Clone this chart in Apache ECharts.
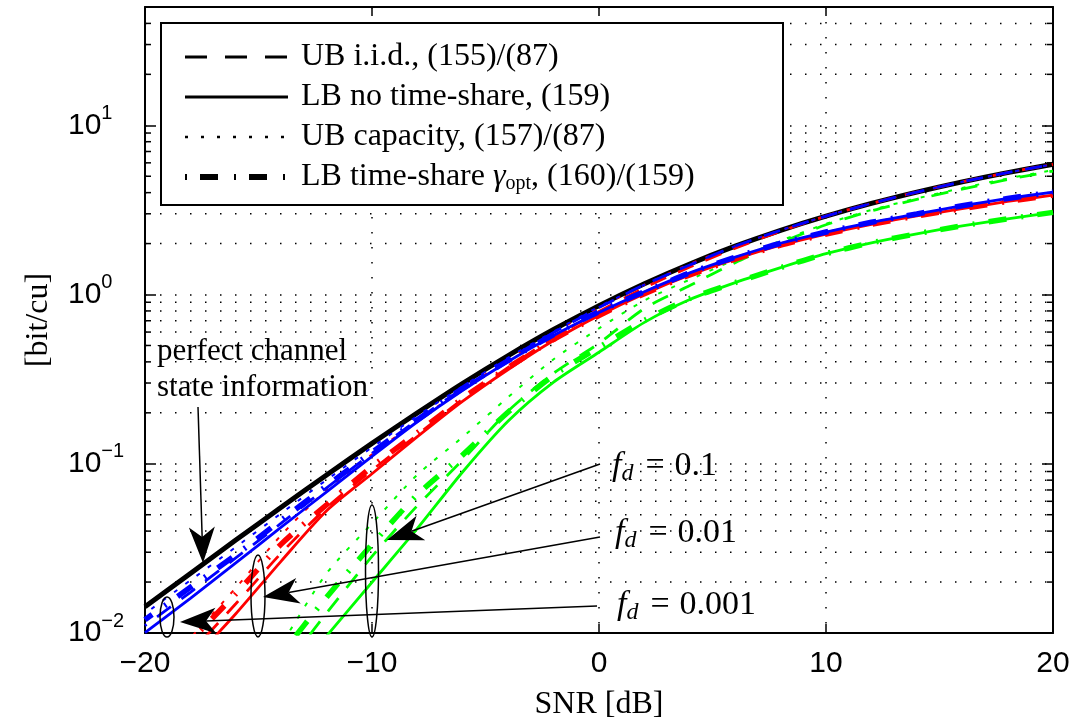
<!DOCTYPE html>
<html>
<head>
<meta charset="utf-8">
<script src="https://cdn.jsdelivr.net/npm/echarts@6/dist/echarts.min.js"></script>
<style>
html, body { margin: 0; padding: 0; background: #fff; }
#chart { width: 1076px; height: 726px; }
</style>
</head>
<body>
<div id="chart"></div>
<script>
// SNR grid [dB]
var snr = [-20, -18, -16, -14, -12, -10, -8, -6, -4, -2, 0, 2, 4, 6, 8, 10, 12, 14, 16, 18, 20];

// perfect channel state information (black)
var perfectCsi = [0.0143, 0.0225, 0.0354, 0.0553, 0.0859, 0.132, 0.200, 0.299, 0.436, 0.621, 0.860, 1.158, 1.516, 1.930, 2.396, 2.906, 3.454, 4.031, 4.633, 5.252, 5.884];

// fd = 0.001 (blue)
var blueUbIid  = [0.01106, 0.0174, 0.02775, 0.04453, 0.07204, 0.1153, 0.1819, 0.2794, 0.4130, 0.5963, 0.8370, 1.1425, 1.4957, 1.930, 2.396, 2.906, 3.454, 4.031, 4.633, 5.252, 5.884];
var blueUbCap  = [0.01301, 0.02047, 0.0322, 0.05099, 0.08028, 0.1250, 0.1920, 0.2871, 0.4244, 0.6044, 0.8485, 1.1425, 1.4957, 1.930, 2.396, 2.906, 3.454, 4.031, 4.633, 5.252, 5.884];
var blueLbNoTs = [0.01006, 0.01604, 0.02593, 0.04219, 0.06825, 0.1107, 0.1771, 0.2720, 0.4020, 0.5726, 0.7823, 1.0392, 1.3421, 1.6631, 2.0095, 2.3402, 2.6710, 2.9930, 3.3483, 3.6943, 4.0282];
var blueLbTs   = [0.01199, 0.01862, 0.02890, 0.04638, 0.07402, 0.1169, 0.1819, 0.2794, 0.4075, 0.5804, 0.7929, 1.0392, 1.3421, 1.6631, 2.0095, 2.3402, 2.6710, 2.9930, 3.3483, 3.6943, 4.0282];

// fd = 0.01 (red)
var redUbIid  = [0.003947, 0.007614, 0.01488, 0.02966, 0.05496, 0.09161, 0.1485, 0.2408, 0.3706, 0.5573, 0.7929, 1.0970, 1.4557, 1.8785, 2.3639, 2.906, 3.454, 4.031, 4.633, 5.252, 5.884];
var redUbCap  = [0.004839, 0.009333, 0.01848, 0.03786, 0.07012, 0.1137, 0.1795, 0.2757, 0.4130, 0.5963, 0.8370, 1.1425, 1.516, 1.930, 2.396, 2.906, 3.454, 4.031, 4.633, 5.252, 5.884];
var redLbNoTs = [0.003402, 0.006647, 0.01299, 0.02661, 0.05275, 0.08734, 0.1445, 0.2344, 0.3607, 0.5351, 0.7511, 1.0114, 1.3063, 1.6187, 1.9559, 2.2777, 2.5991, 2.9132, 3.2153, 3.5472, 3.8681];
var redLbTs   = [0.004582, 0.00896, 0.01703, 0.03351, 0.05724, 0.09602, 0.1526, 0.2441, 0.3706, 0.5424, 0.7511, 1.0114, 1.3063, 1.6187, 1.9559, 2.2777, 2.5991, 2.9132, 3.2153, 3.5472, 3.8681];

// fd = 0.1 (green)
var greenUbIid  = [0.000529, 0.001193, 0.002652, 0.005896, 0.01311, 0.02837, 0.05660, 0.1056, 0.2050, 0.3430, 0.5150, 0.8273, 1.1295, 1.5424, 2.0223, 2.5822, 3.1198, 3.6462, 4.2023, 4.7803, 5.3640];
var greenUbCap  = [0.0008, 0.0017, 0.0038, 0.008614, 0.02253, 0.04437, 0.08616, 0.1441, 0.2478, 0.4146, 0.6310, 0.9219, 1.2249, 1.6067, 2.0780, 2.6168, 3.1623, 3.6952, 4.2600, 4.8460, 5.4375];
var greenLbNoTs = [0.000488, 0.001041, 0.002165, 0.004558, 0.009603, 0.01995, 0.04147, 0.08972, 0.1790, 0.3037, 0.4560, 0.6844, 0.9345, 1.1765, 1.4414, 1.7429, 2.0223, 2.2851, 2.5464, 2.8000, 3.0569];
var greenLbTs   = [0.0007, 0.0016, 0.0035, 0.0075, 0.01628, 0.03338, 0.06571, 0.1129, 0.2022, 0.3338, 0.4878, 0.7033, 0.9473, 1.1765, 1.4414, 1.7429, 2.0223, 2.2851, 2.5464, 2.8000, 3.0569];

var legendNames = ['UB i.i.d., (155)/(87)', 'LB no time-share, (159)', 'UB capacity, (157)/(87)', 'LB time-share γopt, (160)/(159)'];
var xTicks = [-20, -10, 0, 10, 20];
var yMin = 0.01, yMax = 50;

// minor log ticks 2..9 of every decade
var yMinor = [];
[0.01, 0.1, 1, 10].forEach(function (d) {
    for (var k = 2; k <= 9; k++) {
        var v = +(d * k).toPrecision(3);
        if (v < yMax) yMinor.push(v);
    }
});

var serif = "'Liberation Serif', 'Times New Roman', serif";
var sans = "'Liberation Sans', Arial, sans-serif";
var gridDots = [1.5, 13.5];

var dashed = [17, 13], dotted = [4, 10], dashDot = [18, 15, 2, 14];

function pairs(ys) {
    return snr.map(function (x, i) { return [x, ys[i]]; });
}

function curve(id, ys, color, width, dash, z, offset) {
    return {
        name: id, type: 'line', data: pairs(ys), symbol: 'none', smooth: 0.25,
        silent: true, z: z, animation: false,
        lineStyle: { color: color, width: width, type: dash || 'solid', dashOffset: offset || 0, cap: 'butt' }
    };
}

// empty black series, only there to give the legend its samples
function legendDummy(name, width, dash) {
    return { name: name, type: 'line', data: [], symbol: 'none', z: 8,
        itemStyle: { color: 'rgba(0,0,0,0)' },
        lineStyle: { color: '#000', width: width, type: dash || 'solid', cap: 'butt' } };
}

function arrow(x1, y1, x2, y2) {
    var dx = x2 - x1, dy = y2 - y1, len = Math.sqrt(dx * dx + dy * dy);
    var ux = dx / len, uy = dy / len, nx = -uy, ny = ux;
    var L = 36, W = 13, N = 10;
    var bx = x2 - ux * L, by = y2 - uy * L;
    var mx = x2 - ux * (L - N), my = y2 - uy * (L - N);
    return [
        { type: 'line', z: 100, shape: { x1: x1, y1: y1, x2: mx, y2: my }, style: { stroke: '#000', lineWidth: 1.5 } },
        { type: 'polygon', z: 100, shape: { points: [[x2, y2], [bx + nx * W, by + ny * W], [mx, my], [bx - nx * W, by - ny * W]] }, style: { fill: '#000' } }
    ];
}

function ellipse(cx, cy, rx, ry) {
    return { type: 'ellipse', z: 100, shape: { cx: cx, cy: cy, rx: rx, ry: ry }, style: { fill: 'none', stroke: '#000', lineWidth: 1.5 } };
}

function plainText(x, y, txt) {
    return { type: 'text', z: 100, x: x, y: y,
        style: { text: txt, fill: '#000', font: '31px ' + serif, align: 'left', verticalAlign: 'middle' } };
}

function fdText(x, y, val) {
    return { type: 'text', z: 100, x: x, y: y,
        style: {
            text: '{f|f}{d|d}{e|=}{n|' + val + '}', fill: '#000', align: 'left', verticalAlign: 'middle',
            rich: {
                f: { fontFamily: serif, fontStyle: 'italic', fontSize: 34, lineHeight: 40, fill: '#000' },
                d: { fontFamily: serif, fontStyle: 'italic', fontSize: 24, verticalAlign: 'bottom', fill: '#000' },
                e: { fontFamily: serif, fontSize: 34, lineHeight: 40, padding: [0, 10, 0, 12], fill: '#000' },
                n: { fontFamily: serif, fontSize: 34, lineHeight: 40, fill: '#000' }
            }
        } };
}

var axisLineStyle = { color: '#000', width: 2 };

var option = {
    backgroundColor: '#fff',
    animation: false,
    grid: { left: 145, right: 23, top: 7, bottom: 89 },
    legend: {
        data: legendNames, orient: 'vertical', left: 161, top: 23,
        padding: [17, 18, 9, 21], itemWidth: 103, itemHeight: 30, itemGap: 6,
        selectedMode: false, z: 8,
        itemStyle: { color: 'rgba(0,0,0,0)', borderWidth: 0 },
        lineStyle: { width: 'inherit' },
        formatter: function (name) {
            if (name === legendNames[3]) return '{n|LB time-share }{g|γ}{s|opt}{n|, (160)/(159)}';
            return '{n|' + name + '}';
        },
        textStyle: {
            color: '#000', fontFamily: serif, fontSize: 32, lineHeight: 30, padding: [0, 0, 0, 8],
            rich: {
                n: { fontFamily: serif, fontSize: 32, lineHeight: 34, color: '#000' },
                g: { fontFamily: serif, fontSize: 32, lineHeight: 34, fontStyle: 'italic', color: '#000' },
                s: { fontFamily: serif, fontSize: 20, verticalAlign: 'bottom', color: '#000' }
            }
        }
    },
    xAxis: [{
        type: 'value', min: xTicks[0], max: xTicks[xTicks.length - 1], interval: 10,
        axisLine: { onZero: false, lineStyle: axisLineStyle },
        axisTick: { inside: true, length: 9, lineStyle: { color: '#000', width: 1.5 } },
        axisLabel: { margin: 16, color: '#000', fontFamily: sans, fontSize: 30,
            formatter: function (v) { return String(v).replace('-', '\u2212'); } },
        splitLine: { show: true, lineStyle: { color: '#000', width: 1.5, type: gridDots } },
        name: 'SNR [dB]', nameLocation: 'middle', nameGap: 56,
        nameTextStyle: { fontFamily: serif, fontSize: 32, color: '#000' }
    }, {
        type: 'value', position: 'top', min: xTicks[0], max: xTicks[xTicks.length - 1], interval: 10,
        axisLine: { onZero: false, lineStyle: axisLineStyle },
        axisTick: { inside: true, length: 9, lineStyle: { color: '#000', width: 1.5 } },
        axisLabel: { show: false }, splitLine: { show: false }
    }],
    yAxis: [{
        type: 'log', logBase: 10, min: yMin, max: yMax, position: 'left',
        axisLine: { onZero: false, lineStyle: axisLineStyle },
        axisTick: { inside: true, length: 11, lineStyle: { color: '#000', width: 1.5 } },
        axisLabel: {
            margin: 77, align: 'left', showMaxLabel: false,
            formatter: function (v) {
                var e = Math.log10(v), r = Math.round(e);
                if (Math.abs(e - r) > 1e-6) return '';
                return '{b|10}{e|' + String(r).replace('-', '\u2212') + '}';
            },
            rich: {
                b: { fontFamily: sans, fontSize: 30, lineHeight: 44, color: '#000' },
                e: { fontFamily: sans, fontSize: 20, verticalAlign: 'top', color: '#000' }
            }
        },
        splitLine: { show: true, lineStyle: { color: '#000', width: 1.5, type: gridDots } },
        name: '[bit/cu]', nameLocation: 'middle', nameGap: 90,
        nameTextStyle: { fontFamily: serif, fontSize: 32, color: '#000' }
    }, {
        type: 'log', logBase: 10, min: yMin, max: yMax, position: 'right',
        axisLine: { onZero: false, lineStyle: axisLineStyle },
        axisTick: { inside: true, length: 11, lineStyle: { color: '#000', width: 1.5 } },
        axisLabel: { show: false }, splitLine: { show: false }
    }],
    series: [
        {
            type: 'custom', name: 'minorGrid', coordinateSystem: 'cartesian2d', silent: true, z: 1,
            data: yMinor.map(function (v) { return [xTicks[0], v]; }),
            renderItem: function (params, api) {
                var p = api.coord([api.value(0), api.value(1)]);
                var cs = params.coordSys, xl = cs.x, xr = cs.x + cs.width, y = p[1];
                return { type: 'group', children: [
                    { type: 'line', shape: { x1: xl, y1: y, x2: xr, y2: y }, style: { stroke: '#000', lineWidth: 1.5, lineDash: gridDots } },
                    { type: 'line', shape: { x1: xl, y1: y, x2: xl + 6, y2: y }, style: { stroke: '#000', lineWidth: 1.5 } },
                    { type: 'line', shape: { x1: xr - 6, y1: y, x2: xr, y2: y }, style: { stroke: '#000', lineWidth: 1.5 } }
                ] };
            }
        },
        curve('perfect', perfectCsi, '#000', 5, null, 2),

        curve('g-lb', greenLbNoTs, '#00ff00', 2.8, null, 3),
        curve('g-ts', greenLbTs, '#00ff00', 5.5, dashDot, 3),
        curve('g-iid', greenUbIid, '#00ff00', 2.8, dashed, 3),
        curve('g-cap', greenUbCap, '#00ff00', 2, dotted, 3),

        curve('r-lb', redLbNoTs, '#ff0000', 2.8, null, 4),
        curve('r-ts', redLbTs, '#ff0000', 5.5, dashDot, 4),
        curve('r-iid', redUbIid, '#ff0000', 2.8, dashed, 4),
        curve('r-cap', redUbCap, '#ff0000', 2, dotted, 4),

        curve('b-lb', blueLbNoTs, '#0000ff', 2.8, null, 5),
        curve('b-ts', blueLbTs, '#0000ff', 5.5, dashDot, 5, 9),
        curve('b-iid', blueUbIid, '#0000ff', 2.8, dashed, 5, 15),
        curve('b-cap', blueUbCap, '#0000ff', 2, dotted, 5, 6),

        legendDummy(legendNames[0], 3, [22, 18]),
        legendDummy(legendNames[1], 3, null),
        legendDummy(legendNames[2], 2.5, [3, 13]),
        legendDummy(legendNames[3], 6, [2, 13, 18, 16])
    ],
    graphic: [].concat(
        // legend frame
        { type: 'rect', z: 7, shape: { x: 161, y: 23, width: 622, height: 182 },
          style: { fill: '#fff', stroke: '#000', lineWidth: 2 } },
        plainText(157, 352, 'perfect channel'),
        plainText(157, 388, 'state information'),
        arrow(198, 407, 203, 563),
        arrow(600, 464, 387, 540),
        arrow(600, 537, 263, 597),
        arrow(597, 606, 180, 622),
        ellipse(167, 617, 7, 20),
        ellipse(258, 596, 7, 41),
        ellipse(372, 571, 6.5, 66),
        fdText(612, 466, '0.1'),
        fdText(615, 533, '0.01'),
        fdText(617, 605, '0.001')
    )
};

echarts.init(document.getElementById('chart')).setOption(option);
</script>
</body>
</html>
